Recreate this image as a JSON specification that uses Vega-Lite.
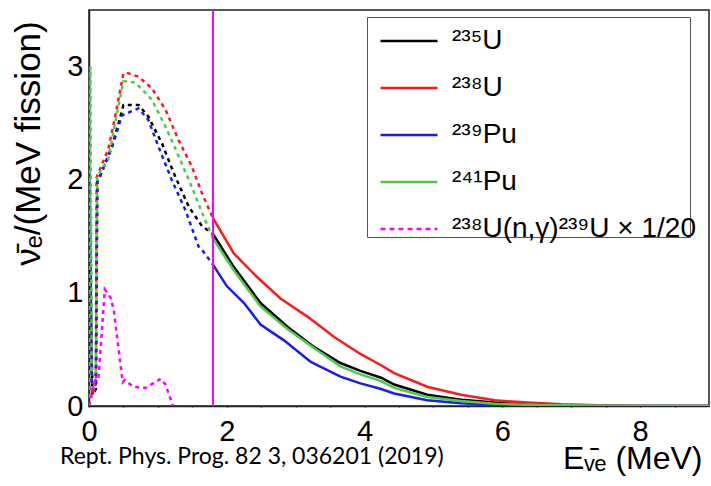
{
  "$schema": "https://vega.github.io/schema/vega-lite/v6.json",
  "width": 620,
  "height": 396,
  "autosize": "none",
  "padding": {"left": 89, "top": 10, "right": 2, "bottom": 80},
  "background": "white",
  "title": {
    "text": "Rept. Phys. Prog. 82 3, 036201 (2019)",
    "orient": "bottom",
    "anchor": "start",
    "frame": "group",
    "baseline": "alphabetic",
    "font": "Lato",
    "fontSize": 23,
    "fontWeight": "normal",
    "color": "#000",
    "dx": -29,
    "offset": -10
  },
  "data": {
    "values": [
      {"iso": "²³⁵U", "E": 0, "y": 0}, {"iso": "²³⁵U", "E": 0.02, "y": 1.2}, {"iso": "²³⁵U", "E": 0.05, "y": 0.1}, {"iso": "²³⁵U", "E": 0.1, "y": 0.15}, {"iso": "²³⁵U", "E": 0.12, "y": 2.0}, {"iso": "²³⁵U", "E": 0.16, "y": 2.03}, {"iso": "²³⁵U", "E": 0.33, "y": 2.29}, {"iso": "²³⁵U", "E": 0.43, "y": 2.5}, {"iso": "²³⁵U", "E": 0.5, "y": 2.66}, {"iso": "²³⁵U", "E": 0.72, "y": 2.66}, {"iso": "²³⁵U", "E": 0.86, "y": 2.56}, {"iso": "²³⁵U", "E": 1.06, "y": 2.32}, {"iso": "²³⁵U", "E": 1.25, "y": 2.03}, {"iso": "²³⁵U", "E": 1.45, "y": 1.76}, {"iso": "²³⁵U", "E": 1.64, "y": 1.59}, {"iso": "²³⁵U", "E": 1.8, "y": 1.52}, {"iso": "²³⁵U", "E": 2.1, "y": 1.23}, {"iso": "²³⁵U", "E": 2.49, "y": 0.91}, {"iso": "²³⁵U", "E": 2.88, "y": 0.7}, {"iso": "²³⁵U", "E": 3.27, "y": 0.52}, {"iso": "²³⁵U", "E": 3.65, "y": 0.38}, {"iso": "²³⁵U", "E": 3.94, "y": 0.31}, {"iso": "²³⁵U", "E": 4.24, "y": 0.25}, {"iso": "²³⁵U", "E": 4.43, "y": 0.19}, {"iso": "²³⁵U", "E": 4.91, "y": 0.1}, {"iso": "²³⁵U", "E": 5.4, "y": 0.055}, {"iso": "²³⁵U", "E": 5.89, "y": 0.03}, {"iso": "²³⁵U", "E": 6.37, "y": 0.014}, {"iso": "²³⁵U", "E": 7.0, "y": 0.005}, {"iso": "²³⁵U", "E": 8.0, "y": 0.001}, {"iso": "²³⁵U", "E": 9.0, "y": 0},

      {"iso": "²³⁸U", "E": 0, "y": 0}, {"iso": "²³⁸U", "E": 0.02, "y": 1.0}, {"iso": "²³⁸U", "E": 0.05, "y": 0.1}, {"iso": "²³⁸U", "E": 0.1, "y": 0.2}, {"iso": "²³⁸U", "E": 0.11, "y": 2.02}, {"iso": "²³⁸U", "E": 0.28, "y": 2.27}, {"iso": "²³⁸U", "E": 0.38, "y": 2.56}, {"iso": "²³⁸U", "E": 0.5, "y": 2.94}, {"iso": "²³⁸U", "E": 0.57, "y": 2.94}, {"iso": "²³⁸U", "E": 0.72, "y": 2.91}, {"iso": "²³⁸U", "E": 0.91, "y": 2.81}, {"iso": "²³⁸U", "E": 1.11, "y": 2.62}, {"iso": "²³⁸U", "E": 1.3, "y": 2.35}, {"iso": "²³⁸U", "E": 1.49, "y": 2.12}, {"iso": "²³⁸U", "E": 1.64, "y": 1.88}, {"iso": "²³⁸U", "E": 1.8, "y": 1.66}, {"iso": "²³⁸U", "E": 2.1, "y": 1.35}, {"iso": "²³⁸U", "E": 2.44, "y": 1.14}, {"iso": "²³⁸U", "E": 2.78, "y": 0.95}, {"iso": "²³⁸U", "E": 3.17, "y": 0.79}, {"iso": "²³⁸U", "E": 3.56, "y": 0.61}, {"iso": "²³⁸U", "E": 3.94, "y": 0.46}, {"iso": "²³⁸U", "E": 4.24, "y": 0.36}, {"iso": "²³⁸U", "E": 4.43, "y": 0.29}, {"iso": "²³⁸U", "E": 4.91, "y": 0.17}, {"iso": "²³⁸U", "E": 5.4, "y": 0.1}, {"iso": "²³⁸U", "E": 5.89, "y": 0.05}, {"iso": "²³⁸U", "E": 6.37, "y": 0.03}, {"iso": "²³⁸U", "E": 6.86, "y": 0.015}, {"iso": "²³⁸U", "E": 7.5, "y": 0.005}, {"iso": "²³⁸U", "E": 8.2, "y": 0.001}, {"iso": "²³⁸U", "E": 9.0, "y": 0},

      {"iso": "²³⁹Pu", "E": 0, "y": 0}, {"iso": "²³⁹Pu", "E": 0.01, "y": 2.1}, {"iso": "²³⁹Pu", "E": 0.04, "y": 0.2}, {"iso": "²³⁹Pu", "E": 0.1, "y": 0.2}, {"iso": "²³⁹Pu", "E": 0.12, "y": 1.98}, {"iso": "²³⁹Pu", "E": 0.14, "y": 2.0}, {"iso": "²³⁹Pu", "E": 0.33, "y": 2.28}, {"iso": "²³⁹Pu", "E": 0.48, "y": 2.57}, {"iso": "²³⁹Pu", "E": 0.72, "y": 2.63}, {"iso": "²³⁹Pu", "E": 0.86, "y": 2.53}, {"iso": "²³⁹Pu", "E": 1.01, "y": 2.29}, {"iso": "²³⁹Pu", "E": 1.2, "y": 2.0}, {"iso": "²³⁹Pu", "E": 1.4, "y": 1.73}, {"iso": "²³⁹Pu", "E": 1.59, "y": 1.41}, {"iso": "²³⁹Pu", "E": 1.64, "y": 1.38}, {"iso": "²³⁹Pu", "E": 1.8, "y": 1.25}, {"iso": "²³⁹Pu", "E": 2.0, "y": 1.06}, {"iso": "²³⁹Pu", "E": 2.25, "y": 0.91}, {"iso": "²³⁹Pu", "E": 2.49, "y": 0.72}, {"iso": "²³⁹Pu", "E": 2.83, "y": 0.58}, {"iso": "²³⁹Pu", "E": 3.22, "y": 0.39}, {"iso": "²³⁹Pu", "E": 3.65, "y": 0.26}, {"iso": "²³⁹Pu", "E": 3.94, "y": 0.2}, {"iso": "²³⁹Pu", "E": 4.24, "y": 0.15}, {"iso": "²³⁹Pu", "E": 4.43, "y": 0.11}, {"iso": "²³⁹Pu", "E": 4.91, "y": 0.05}, {"iso": "²³⁹Pu", "E": 5.4, "y": 0.025}, {"iso": "²³⁹Pu", "E": 5.89, "y": 0.01}, {"iso": "²³⁹Pu", "E": 6.5, "y": 0.004}, {"iso": "²³⁹Pu", "E": 7.5, "y": 0.001}, {"iso": "²³⁹Pu", "E": 9.0, "y": 0},

      {"iso": "²⁴¹Pu", "E": 0, "y": 0}, {"iso": "²⁴¹Pu", "E": 0.02, "y": 3.0}, {"iso": "²⁴¹Pu", "E": 0.04, "y": 0.3}, {"iso": "²⁴¹Pu", "E": 0.1, "y": 0.3}, {"iso": "²⁴¹Pu", "E": 0.12, "y": 2.03}, {"iso": "²⁴¹Pu", "E": 0.28, "y": 2.18}, {"iso": "²⁴¹Pu", "E": 0.38, "y": 2.5}, {"iso": "²⁴¹Pu", "E": 0.5, "y": 2.87}, {"iso": "²⁴¹Pu", "E": 0.67, "y": 2.86}, {"iso": "²⁴¹Pu", "E": 0.91, "y": 2.71}, {"iso": "²⁴¹Pu", "E": 1.11, "y": 2.47}, {"iso": "²⁴¹Pu", "E": 1.3, "y": 2.21}, {"iso": "²⁴¹Pu", "E": 1.49, "y": 1.94}, {"iso": "²⁴¹Pu", "E": 1.64, "y": 1.71}, {"iso": "²⁴¹Pu", "E": 1.8, "y": 1.48}, {"iso": "²⁴¹Pu", "E": 2.1, "y": 1.2}, {"iso": "²⁴¹Pu", "E": 2.49, "y": 0.88}, {"iso": "²⁴¹Pu", "E": 2.88, "y": 0.68}, {"iso": "²⁴¹Pu", "E": 3.27, "y": 0.51}, {"iso": "²⁴¹Pu", "E": 3.65, "y": 0.35}, {"iso": "²⁴¹Pu", "E": 3.94, "y": 0.28}, {"iso": "²⁴¹Pu", "E": 4.24, "y": 0.22}, {"iso": "²⁴¹Pu", "E": 4.43, "y": 0.16}, {"iso": "²⁴¹Pu", "E": 4.91, "y": 0.08}, {"iso": "²⁴¹Pu", "E": 5.4, "y": 0.045}, {"iso": "²⁴¹Pu", "E": 5.89, "y": 0.02}, {"iso": "²⁴¹Pu", "E": 6.5, "y": 0.008}, {"iso": "²⁴¹Pu", "E": 7.5, "y": 0.002}, {"iso": "²⁴¹Pu", "E": 9.0, "y": 0},

      {"iso": "²³⁸U(n,γ)²³⁹U × 1/20", "E": 0, "y": 0}, {"iso": "²³⁸U(n,γ)²³⁹U × 1/20", "E": 0.015, "y": 0.03}, {"iso": "²³⁸U(n,γ)²³⁹U × 1/20", "E": 0.09, "y": 0.23}, {"iso": "²³⁸U(n,γ)²³⁹U × 1/20", "E": 0.135, "y": 0.23}, {"iso": "²³⁸U(n,γ)²³⁹U × 1/20", "E": 0.23, "y": 1.03}, {"iso": "²³⁸U(n,γ)²³⁹U × 1/20", "E": 0.31, "y": 0.96}, {"iso": "²³⁸U(n,γ)²³⁹U × 1/20", "E": 0.36, "y": 0.85}, {"iso": "²³⁸U(n,γ)²³⁹U × 1/20", "E": 0.43, "y": 0.5}, {"iso": "²³⁸U(n,γ)²³⁹U × 1/20", "E": 0.49, "y": 0.21}, {"iso": "²³⁸U(n,γ)²³⁹U × 1/20", "E": 0.52, "y": 0.23}, {"iso": "²³⁸U(n,γ)²³⁹U × 1/20", "E": 0.64, "y": 0.17}, {"iso": "²³⁸U(n,γ)²³⁹U × 1/20", "E": 0.82, "y": 0.16}, {"iso": "²³⁸U(n,γ)²³⁹U × 1/20", "E": 1.04, "y": 0.24}, {"iso": "²³⁸U(n,γ)²³⁹U × 1/20", "E": 1.11, "y": 0.19}, {"iso": "²³⁸U(n,γ)²³⁹U × 1/20", "E": 1.22, "y": 0.0}
    ]
  },
  "config": {
    "view": {"stroke": "#222", "strokeWidth": 1.5},
    "axis": {
      "grid": false,
      "zindex": 1,
      "domainColor": "#222",
      "domainWidth": 1.5,
      "ticks": true,
      "tickColor": "#333",
      "tickWidth": 1.5,
      "labelFont": "Liberation Sans",
      "labelFontSize": 29,
      "labelColor": "#000",
      "titleFont": "Liberation Sans",
      "titleFontWeight": "normal",
      "titleColor": "#000"
    }
  },
  "encoding": {
    "x": {
      "field": "E",
      "type": "quantitative",
      "scale": {"domain": [0, 9], "nice": false, "zero": false},
      "axis": {
        "values": [0, 0.5, 1, 1.5, 2, 2.5, 3, 3.5, 4, 4.5, 5, 5.5, 6, 6.5, 7, 7.5, 8, 8.5],
        "format": "~g",
        "labelExpr": "datum.value % 2 === 0 ? datum.label : ''",
        "tickSize": 1,
        "labelPadding": 10,
        "labelFlush": false,
        "labelOverlap": false,
        "encode": {
          "ticks": {
            "update": {
              "y2": {"signal": "datum.value % 2 === 0 ? -12 : -6"}
            }
          }
        },
        "title": "Eᵥ̄ₑ (MeV)",
        "titleFontSize": 32,
        "titleAnchor": null,
        "titleAlign": "right",
        "titleBaseline": "alphabetic",
        "titleX": 613,
        "titleY": 62
      }
    },
    "y": {
      "field": "y",
      "type": "quantitative",
      "scale": {"domain": [0, 3.5], "nice": false},
      "axis": {
        "values": [0, 0.2, 0.4, 0.6, 0.8, 1, 1.2, 1.4, 1.6, 1.8, 2, 2.2, 2.4, 2.6, 2.8, 3, 3.2, 3.4],
        "format": "~g",
        "labelExpr": "datum.value % 1 === 0 ? datum.label : ''",
        "tickSize": 1,
        "labelPadding": 5,
        "labelFlush": false,
        "labelOverlap": false,
        "encode": {
          "ticks": {
            "update": {
              "x2": {"signal": "datum.value % 1 === 0 ? 18 : 9"}
            }
          }
        },
        "title": "ν̄ₑ/(MeV fission)",
        "titleFontSize": 35,
        "titleAnchor": null,
        "titleAngle": -90,
        "titleAlign": "center",
        "titleBaseline": "middle",
        "titleX": -61,
        "titleY": 133
      }
    },
    "color": {
      "field": "iso",
      "type": "nominal",
      "sort": ["²³⁵U", "²³⁸U", "²³⁹Pu", "²⁴¹Pu", "²³⁸U(n,γ)²³⁹U × 1/20"],
      "scale": {
        "domain": ["²³⁵U", "²³⁸U", "²³⁹Pu", "²⁴¹Pu", "²³⁸U(n,γ)²³⁹U × 1/20"],
        "range": ["#000000", "#ff1a1a", "#1a1aff", "#4ccc4c", "#ff00ff"]
      },
      "legend": {
        "orient": "none",
        "legendX": 278,
        "legendY": 7,
        "title": null,
        "symbolType": "stroke",
        "symbolSize": 3249,
        "symbolStrokeWidth": 2.5,
        "symbolOffset": 18,
        "rowPadding": 3,
        "labelFont": "Liberation Sans",
        "labelFontSize": 28,
        "labelColor": "#000",
        "labelLimit": 400,
        "labelOffset": 13,
        "padding": -6,
        "fillColor": "white",
        "strokeColor": "#555",
        "encode": {
          "symbols": {
            "update": {
              "strokeDash": {"signal": "datum.value === '²³⁸U(n,γ)²³⁹U × 1/20' ? [5, 4] : []"}
            }
          }
        }
      }
    }
  },
  "layer": [
    {
      "transform": [{"filter": "datum.E <= 1.8"}],
      "mark": {"type": "line", "strokeWidth": 2.5, "strokeDash": [4, 4], "clip": true}
    },
    {
      "transform": [{"filter": "datum.E >= 1.8"}],
      "mark": {"type": "line", "strokeWidth": 2.5, "clip": true}
    },
    {
      "mark": {"type": "rule", "color": "#ff00ff", "strokeWidth": 2},
      "encoding": {"x": {"datum": 1.8}, "y": null, "color": null}
    }
  ]
}
